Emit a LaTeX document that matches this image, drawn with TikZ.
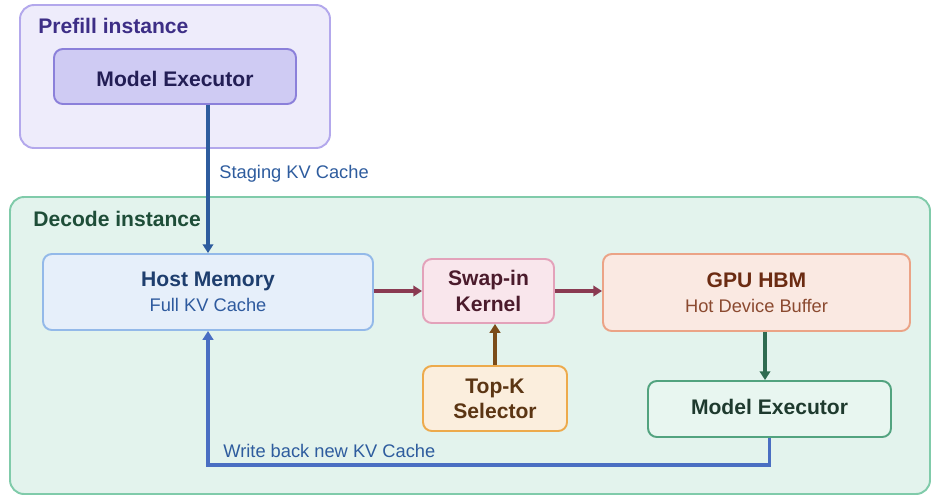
\documentclass[tikz,border=0pt]{standalone}
\usepackage{fontspec}
\setmainfont{Liberation Sans}
\usetikzlibrary{arrows.meta}

% colours of the two instances and their blocks
\definecolor{prefillbg}{HTML}{EEECFB}
\definecolor{prefillline}{HTML}{B3A8EC}
\definecolor{prefilltext}{HTML}{3D2E86}
\definecolor{pexecbg}{HTML}{CFCBF3}
\definecolor{pexecline}{HTML}{8B80DA}
\definecolor{pexectext}{HTML}{231E55}
\definecolor{decodebg}{HTML}{E3F3ED}
\definecolor{decodeline}{HTML}{80CBAA}
\definecolor{decodetext}{HTML}{1E4D38}
\definecolor{hostbg}{HTML}{E6EFFA}
\definecolor{hostline}{HTML}{93B9E9}
\definecolor{hosttext}{HTML}{1E3E6E}
\definecolor{hostsub}{HTML}{2E5A9E}
\definecolor{swapbg}{HTML}{F9E6EC}
\definecolor{swapline}{HTML}{E3A2BA}
\definecolor{swaptext}{HTML}{4B1B2C}
\definecolor{gpubg}{HTML}{FAE9E2}
\definecolor{gpuline}{HTML}{EBA386}
\definecolor{gputext}{HTML}{6B2B12}
\definecolor{gpusub}{HTML}{8B4A30}
\definecolor{topkbg}{HTML}{FBEEDD}
\definecolor{topkline}{HTML}{EDAA4C}
\definecolor{topktext}{HTML}{5B3513}
\definecolor{dexecbg}{HTML}{E8F6F0}
\definecolor{dexecline}{HTML}{52A37F}
\definecolor{dexectext}{HTML}{1E3A2E}
% arrow colours
\definecolor{stagingarrow}{HTML}{2E5C9E}
\definecolor{swaparrow}{HTML}{8A3A52}
\definecolor{topkarrow}{HTML}{7B4C1A}
\definecolor{execarrow}{HTML}{2F6B50}
\definecolor{backarrow}{HTML}{4A6EC2}

\newcommand{\titlefont}{\fontsize{12}{14.4}\selectfont\bfseries}
\newcommand{\subfont}{\fontsize{10.4}{14}\selectfont\mdseries}

\tikzset{
>={Triangle[length=5pt,width=6pt]}, % small solid heads
every node/.style={font=\subfont, inner sep=0pt}, % plain text is the smaller size
instance/.style={draw, rounded corners=8pt, line width=1.1pt}, % the two big containers
block/.style={draw, rounded corners=5pt, line width=1.1pt, align=center, font=\titlefont}, % boxes inside them
flow/.style={->, line width=1.9pt}, % connectors
}

\begin{document}
\begin{tikzpicture}
    \useasboundingbox (0,0) rectangle (18.66,-9.92);
    % prefill side
    \node[instance, draw=prefillline, fill=prefillbg, minimum width=6.2cm, minimum height=2.86cm] at (3.5,-1.53) (prefill) {};
    \node[anchor=west, font=\titlefont, text=prefilltext] at (0.76,-0.52) (prefilltitle) {Prefill instance};
    \node[block, draw=pexecline, fill=pexecbg, text=pexectext, minimum width=4.84cm, minimum height=1.1cm] at (3.5,-1.53) (pexec) {\raisebox{-3pt}[\height][\depth]{\strut Model Executor}};
    % decode side
    \node[instance, draw=decodeline, fill=decodebg, minimum width=18.4cm, minimum height=5.94cm] at (9.4,-6.91) (decode) {};
    \node[anchor=west, font=\titlefont, text=decodetext] at (0.66,-4.38) (decodetitle) {Decode instance};
    \node[block, draw=hostline, fill=hostbg, text=hosttext, minimum width=6.6cm, minimum height=1.52cm] at (4.16,-5.84) (host) {Host Memory\\{\subfont\color{hostsub}Full KV Cache}};
    \node[block, draw=swapline, fill=swapbg, text=swaptext, minimum width=2.62cm, minimum height=1.28cm] at (9.77,-5.82) (swap) {Swap-in\\Kernel};
    \node[block, draw=gpuline, fill=gpubg, text=gputext, minimum width=6.14cm, minimum height=1.54cm] at (15.13,-5.85) (gpu) {GPU HBM\\{\subfont\color{gpusub}Hot Device Buffer}};
    \node[block, draw=topkline, fill=topkbg, text=topktext, minimum width=2.88cm, minimum height=1.3cm] at (9.9,-7.97) (topk) {Top-K\\Selector};
    \node[block, draw=dexecline, fill=dexecbg, text=dexectext, minimum width=4.86cm, minimum height=1.12cm] at (15.39,-8.18) (dexec) {\strut Model Executor};
    % labels on the blue connectors
    \node[anchor=west, text=stagingarrow] at (4.38,-3.48) (staginglabel) {Staging KV Cache};
    \node[anchor=west, text=stagingarrow] at (4.46,-9.02) (backlabel) {Write back new KV Cache};
    % connectors
    \draw[flow, stagingarrow] (pexec.south -| host.north) -- (host.north);
    \draw[flow, swaparrow] (host.east |- swap.west) -- (swap.west);
    \draw[flow, swaparrow] (swap.east) -- (swap.east -| gpu.west);
    \draw[flow, topkarrow] (topk.north) -- (topk.north |- swap.south);
    \draw[flow, execarrow] (15.3,0 |- gpu.south) -- (15.3,0 |- dexec.north);
    \draw[flow, backarrow] (dexec.south) -- ++(0,-0.54) -| (host.south);
\end{tikzpicture}
\end{document}
